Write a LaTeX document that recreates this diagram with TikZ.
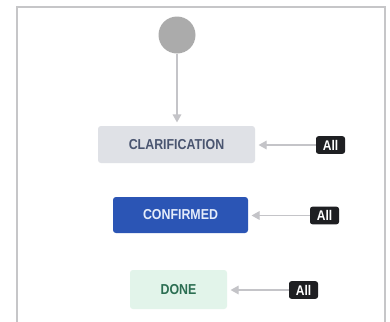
\documentclass[tikz,border=0pt]{standalone}
\usepackage{fontspec}
\setmainfont{Liberation Sans}
\newfontfamily\condfont[FakeStretch=0.86]{Liberation Sans}
\usetikzlibrary{arrows.meta}
\definecolor{framegray}{HTML}{C6C6C8}
\definecolor{startgray}{HTML}{ABABAB}
\definecolor{linegray}{HTML}{C4C4C8}
\definecolor{clarfill}{HTML}{DFE1E6}
\definecolor{clartext}{HTML}{4A5570}
\definecolor{conffill}{HTML}{2B55B5}
\definecolor{conftext}{HTML}{E4ECFA}
\definecolor{donefill}{HTML}{E2F4EA}
\definecolor{donetext}{HTML}{2B6E52}
\definecolor{badgefill}{HTML}{1E1F22}
\tikzset{
  status/.style={rectangle, rounded corners=2.2pt, inner sep=0pt, font=\condfont\bfseries\fontsize{10.8}{12}\selectfont},
  badge/.style={rectangle, rounded corners=1.8pt, fill=badgefill, text=white, minimum width=21.75pt, minimum height=13.2pt, inner sep=0pt, font=\condfont\bfseries\fontsize{10.5}{11}\selectfont},
  conn/.style={draw=linegray, line width=0.9pt, -{Triangle[length=6pt,width=6.5pt]}},
}
\begin{document}
\begin{tikzpicture}[x=0.75pt,y=-0.75pt]
\useasboundingbox (0,0) rectangle (390,322);
\fill[white] (0,0) rectangle (390,322);
\draw[framegray, line width=1.6pt] (17,323) -- (17,7) -- (385,7) -- (385,323);
\node[circle, fill=startgray, minimum size=27.75pt, inner sep=0pt] (start) at (177,35) {};
\node[status, fill=clarfill, text=clartext, minimum width=117.75pt, minimum height=27.75pt] (clar) at (176.5,144.5) {CLARIFICATION};
\node[status, fill=conffill, text=conftext, minimum width=101.25pt, minimum height=27pt] (conf) at (180.5,215) {CONFIRMED};
\node[status, fill=donefill, text=donetext, minimum width=72.75pt, minimum height=29.25pt] (done) at (178.5,289.5) {DONE};
\node[badge] (all1) at (330.5,145) {All};
\node[badge] (all2) at (324.5,215.5) {All};
\node[badge] (all3) at (303.5,290) {All};
\draw[conn] (start) -- ([yshift=2.5pt]clar.north -| start);
\draw[conn] (all1.west) -- ([xshift=2.5pt]clar.east |- all1.west);
\draw[conn] (all2.west) -- ([xshift=2.5pt]conf.east |- all2.west);
\draw[conn] (all3.west) -- ([xshift=2.5pt]done.east |- all3.west);
\end{tikzpicture}
\end{document}
